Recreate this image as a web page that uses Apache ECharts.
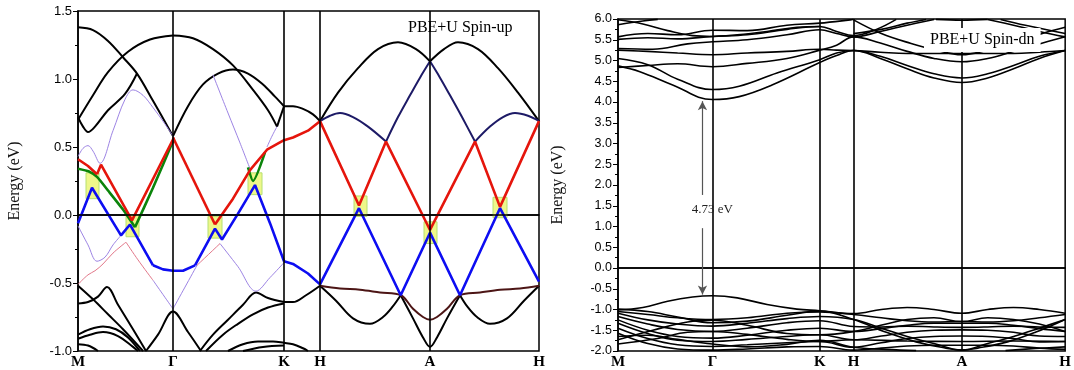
<!DOCTYPE html>
<html>
<head>
<meta charset="utf-8">
<script src="https://cdn.jsdelivr.net/npm/echarts/dist/echarts.min.js"></script>
<style>
  html, body { margin: 0; padding: 0; background: #fff; }
  #chart { width: 1074px; height: 370px; }
</style>
</head>
<body>
<div id="chart"></div>
<script>
// high-symmetry points (k-path distance) and labels
const kLabels = ['M', 'Γ', 'K', 'H', 'A', 'H'];
const kUp = [0, 95, 206, 242, 352, 461];
const kDn = [0, 95, 203, 237, 346, 450];

// ---- spin-up panel, black bands
const upBlack = [
  [[0,1.38],[15,1.36],[30,1.28],[45,1.16],[59,1.04],[75,0.84],[95,0.58]],
  [[0,0.70],[15,0.88],[30,1.05],[50,1.20],[72,1.29],[95,1.32]],
  [[0,0.72],[5,0.65],[10,0.61],[17,0.65],[30,0.77],[47,0.89],[59,1.04]],
  [[95,1.32],[115,1.30],[135,1.22],[155,1.10],[175,0.92],[190,0.77],[199,0.65]],
  [[199,0.65],[206,0.80]],
  [[95,0.58],[110,0.80],[125,0.96],[140,1.04],[155,1.07],[170,1.04],[185,0.96],[197,0.87],[206,0.80]],
  [[206,0.80],[215,0.80],[225,0.78],[235,0.74],[242,0.69]],
  [[242,0.69],[260,0.90],[280,1.08],[300,1.22],[320,1.27],[338,1.22],[352,1.13]],
  [[352,1.13],[366,1.22],[380,1.27],[400,1.22],[420,1.08],[440,0.90],[461,0.69]],
  [[0,-0.52],[15,-0.62],[30,-0.73],[45,-0.84],[65,-1.0]],
  [[0,-0.65],[10,-0.64],[20,-0.60],[29,-0.53],[40,-0.66],[55,-0.84],[68,-1.0]],
  [[68,-1.0],[80,-0.88],[95,-0.71],[110,-0.86],[123,-1.0]],
  [[0,-0.88],[12,-0.84],[25,-0.82],[38,-0.84],[50,-0.90],[62,-1.0]],
  [[0,-0.91],[12,-0.88],[25,-0.86],[40,-0.89],[55,-0.97],[60,-1.0]],
  [[0,-0.95],[10,-0.96],[20,-1.0]],
  [[122,-1.0],[135,-0.88],[150,-0.77],[165,-0.66],[178,-0.57],[190,-0.61],[206,-0.64]],
  [[128,-1.0],[145,-0.88],[160,-0.80],[175,-0.73],[190,-0.68],[206,-0.65]],
  [[150,-1.0],[165,-0.95],[180,-0.93],[195,-0.93],[206,-0.94],[215,-0.95],[225,-0.98],[230,-1.0]],
  [[165,-1.0],[185,-0.97],[206,-0.96]],
  [[206,-0.64],[215,-0.64],[228,-0.59],[242,-0.52]],
  [[242,-0.52],[258,-0.63],[275,-0.76],[292,-0.80],[305,-0.75],[315,-0.67],[322.7,-0.59]],
  [[322.7,-0.59],[335,-0.76],[345,-0.90],[352,-0.97],[359,-0.90],[369,-0.76],[382,-0.59]],
  [[382,-0.59],[389,-0.67],[399,-0.75],[412,-0.80],[429,-0.76],[446,-0.63],[461,-0.52]]
];
const upNavy = [
  [[242,0.69],[252,0.73],[262,0.75],[275,0.72],[290,0.65],[308,0.54]],
  [[308,0.54],[320,0.72],[332,0.88],[342,1.01],[352,1.13]],
  [[352,1.13],[362,1.01],[372,0.88],[384,0.72],[397,0.54]],
  [[397,0.54],[412,0.65],[425,0.72],[437,0.75],[450,0.73],[461,0.69]]
];
const upMaroon = [[242,-0.52],[262,-0.54],[282,-0.55],[302,-0.57],[322.7,-0.59],[335,-0.69],[345,-0.75],[352,-0.77],
  [359,-0.75],[369,-0.69],[382,-0.59],[402,-0.57],[422,-0.55],[442,-0.54],[461,-0.52]];
const upPurple = [
  [[0,0.43],[5,0.49],[10,0.51],[15,0.47],[22,0.38],[35,0.62],[47,0.85],[55,0.92],[65,0.88],[75,0.79],[85,0.69],[95,0.58]],
  [[0,-0.08],[10,-0.22],[19,-0.34],[27,-0.31],[35,-0.22],[43,-0.15]],
  [[135,1.03],[150,0.75],[162,0.53],[172,0.34]],
  [[189,0.50],[194,0.58],[199,0.65]],
  [[95,-0.69],[107,-0.53],[119,-0.37]],
  [[142,-0.21],[160,-0.38],[178,-0.56],[192,-0.46],[206,-0.35]],
  [[75,-0.48],[95,-0.69]]
];
const upPink = [
  [[0,-0.51],[10,-0.44],[17,-0.41],[25,-0.36],[35,-0.28],[48,-0.20]],
  [[48,-0.20],[60,-0.33],[75,-0.48]],
  [[119,-0.37],[142,-0.21]]
];
const upGreen = [
  [[0,0.34],[11,0.32],[19,0.28],[30,0.18],[45,0.04],[57,-0.09]],
  [[57,-0.09],[75,0.20],[96,0.56]],
  [[170,0.35],[175,0.25],[187,0.46]]
];
const upRed = [
  [[0,0.41],[10,0.36],[19,0.30]],
  [[19,0.30],[23,0.37],[54,-0.04],[96,0.57]],
  [[95,0.57],[137,-0.07]],
  [[137,-0.07],[155,0.12],[172,0.33],[189,0.48],[206,0.55],[215,0.57],[230,0.62],[242,0.69]],
  [[242,0.69],[281,0.07],[308,0.54],[352,-0.11],[397,0.54],[422,0.06],[461,0.69]]
];
const upBlue = [
  [[0,-0.06],[14,0.20],[43,-0.15],[52,-0.07],[75,-0.37]],
  [[75,-0.37],[85,-0.40],[95,-0.41],[105,-0.41],[117,-0.37]],
  [[117,-0.37],[137,-0.10],[144,-0.18],[160,0.01],[177,0.22],[192,-0.06],[206,-0.34]],
  [[206,-0.34],[215,-0.36],[230,-0.43],[242,-0.51]],
  [[242,-0.51],[281,0.05],[322.7,-0.59],[352,-0.13],[382,-0.59],[422,0.05],[461,-0.49]]
];
// highlighted crossings: [x1, E1, x2, E2]
const upBoxes = [
  [8,0.12,21,0.31], [48,-0.16,61,0.0], [130,-0.17,144,-0.01], [170,0.15,184,0.31],
  [276,-0.01,289,0.14], [346,-0.21,359,-0.05], [415,-0.02,429,0.13]
];

// ---- spin-down panel
const dnCond = [
  [[0,4.87],[22,4.73],[55,4.41],[95,4.06],[122,4.13],[155,4.41],[203,4.95],[220,5.12],[237,5.24],[264,5.05],[291,4.80],[318,4.58],[346,4.47],[372,4.58],[398,4.80],[424,5.05],[450,5.24]],
  [[0,5.05],[30,4.90],[60,4.55],[95,4.30],[122,4.38],[160,4.70],[203,5.02],[220,5.18],[237,5.24],[264,5.10],[291,4.88],[318,4.68],[346,4.58],[372,4.68],[398,4.88],[424,5.10],[450,5.24]],
  [[0,4.83],[30,4.88],[60,4.92],[95,4.85],[130,4.93],[170,5.05],[203,5.25],[220,5.37],[237,5.57],[264,5.42],[291,5.22],[318,5.05],[346,4.97],[372,5.05],[398,5.22],[424,5.40],[450,5.57]],
  [[0,5.25],[30,5.22],[60,5.18],[95,5.14],[130,5.18],[170,5.22],[203,5.27],[220,5.25],[237,5.24],[264,5.20],[291,5.17],[346,5.17],[398,5.17],[424,5.20],[450,5.24]],
  [[0,5.29],[35,5.27],[70,5.40],[95,5.45],[130,5.50],[170,5.62],[203,5.74],[220,5.65],[237,5.57],[264,5.70],[291,5.85],[318,5.99]],
  [[372,5.99],[398,5.85],[424,5.70],[450,5.57]],
  [[0,5.51],[30,5.55],[60,5.52],[95,5.58],[130,5.62],[170,5.75],[203,5.82],[220,5.70],[237,5.60],[260,5.75],[280,5.99]],
  [[0,5.57],[30,5.65],[60,5.62],[95,5.73],[130,5.72],[170,5.85],[203,5.90],[237,5.99]],
  [[0,5.98],[25,5.88],[50,5.72],[75,5.60],[95,5.58],[120,5.62],[150,5.70],[180,5.80],[203,5.82]],
  [[0,5.86],[25,5.95],[40,5.99]],
  [[237,5.98],[265,5.65],[295,5.41],[320,5.25],[346,5.14],[372,5.25],[397,5.41],[427,5.65],[450,5.80]],
  [[237,5.65],[265,5.75],[291,5.90],[310,5.99]],
  [[385,5.99],[410,5.85],[450,5.65]],
  [[320,5.99],[346,5.97],[372,5.99]]
];
const dnVal = [
  [[0,-1.01],[25,-0.95],[50,-0.80],[75,-0.70],[95,-0.67],[120,-0.72],[150,-0.88],[180,-0.99],[203,-1.03],[237,-1.10],[265,-1.00],[291,-0.95],[318,-1.00],[346,-1.09],[372,-1.00],[398,-0.95],[424,-1.00],[450,-1.09]],
  [[0,-1.05],[30,-1.12],[60,-1.20],[95,-1.24],[130,-1.20],[170,-1.09],[203,-1.06],[237,-1.12],[265,-1.20],[291,-1.27],[318,-1.30],[346,-1.29],[372,-1.30],[398,-1.27],[424,-1.20],[450,-1.12]],
  [[0,-1.09],[30,-1.25],[60,-1.35],[95,-1.40],[130,-1.33],[170,-1.22],[203,-1.17],[237,-1.24],[265,-1.45],[291,-1.65],[318,-1.82],[346,-1.98],[372,-1.82],[398,-1.65],[424,-1.45],[450,-1.24]],
  [[0,-1.17],[30,-1.35],[60,-1.48],[95,-1.53],[130,-1.45],[170,-1.32],[203,-1.27],[237,-1.41],[265,-1.42],[291,-1.40],[318,-1.42],[346,-1.43],[372,-1.42],[398,-1.40],[424,-1.42],[450,-1.43]],
  [[0,-1.25],[30,-1.50],[60,-1.65],[95,-1.69],[130,-1.62],[170,-1.50],[203,-1.45],[237,-1.53],[265,-1.46],[291,-1.38],[318,-1.33],[346,-1.33],[372,-1.33],[398,-1.38],[424,-1.46],[450,-1.53]],
  [[0,-1.33],[30,-1.58],[60,-1.74],[95,-1.77],[130,-1.72],[170,-1.65],[203,-1.61],[237,-1.73],[265,-1.64],[291,-1.55],[318,-1.50],[346,-1.49],[372,-1.50],[398,-1.55],[424,-1.64],[450,-1.65]],
  [[0,-1.45],[30,-1.70],[60,-1.85],[95,-1.89],[130,-1.85],[170,-1.80],[203,-1.77],[237,-1.91],[265,-1.80],[291,-1.70],[318,-1.65],[346,-1.64],[372,-1.65],[398,-1.70],[424,-1.78],[450,-1.77]],
  [[0,-1.57],[30,-1.82],[60,-1.95],[95,-1.98],[130,-1.95],[170,-1.90],[203,-1.89],[237,-1.98],[265,-1.93],[291,-1.88],[318,-1.86],[346,-1.86],[372,-1.86],[398,-1.88],[424,-1.93],[450,-1.96]],
  [[0,-1.73],[35,-1.50],[70,-1.30],[95,-1.26],[130,-1.38],[170,-1.58],[203,-1.61],[237,-1.53],[270,-1.35],[291,-1.24],[318,-1.20],[346,-1.29],[372,-1.20],[398,-1.24],[424,-1.35],[450,-1.53]],
  [[0,-1.83],[40,-1.70],[70,-1.55],[95,-1.53],[130,-1.60],[170,-1.72],[203,-1.77],[237,-1.73],[291,-1.76],[346,-1.77],[398,-1.76],[450,-1.77]],
  [[0,-0.99],[30,-1.05],[60,-1.18],[95,-1.32],[130,-1.28],[170,-1.14],[203,-1.04],[237,-1.24],[270,-1.55],[300,-1.78],[330,-1.93],[346,-1.98],[362,-1.93],[392,-1.78],[420,-1.55],[450,-1.24]],
  [[0,-1.65],[30,-1.62],[60,-1.72],[95,-1.83],[130,-1.90],[170,-1.84],[203,-1.74],[237,-1.91],[270,-1.96],[300,-1.99]],
  [[390,-1.99],[420,-1.94],[450,-1.90]]
];
// band gap arrows and label
const gapX = 85;
const gapUp = [1.76, 4.02];
const gapDown = [0.96, -0.64];
const gapText = '4.73 eV';
const gapTextPos = [95, 1.4];

function band(data, gi, color, width, smooth) {
  return {
    type: 'line', xAxisIndex: gi, yAxisIndex: gi, data: data,
    symbol: 'none', smooth: smooth, silent: true, z: 3,
    lineStyle: { color: color, width: width }
  };
}

const series = [];
// guide lines + highlight boxes
[[kUp, 0], [kDn, 1]].forEach(function (p) {
  series.push({
    type: 'line', xAxisIndex: p[1], yAxisIndex: p[1], data: [], z: 2, silent: true,
    markLine: {
      symbol: 'none', silent: true, animation: false,
      label: { show: false },
      lineStyle: { color: '#000', width: 1.6, type: 'solid' },
      data: p[0].slice(1, 5).map(function (v) { return { xAxis: v }; }).concat([{ yAxis: 0 }])
    }
  });
});
series.push({
  type: 'line', xAxisIndex: 0, yAxisIndex: 0, data: [], z: 1, silent: true,
  markArea: {
    silent: true,
    itemStyle: { color: '#eef78a', borderColor: '#b6e070', borderWidth: 1 },
    data: upBoxes.map(function (b) { return [{ coord: [b[0], b[1]] }, { coord: [b[2], b[3]] }]; })
  }
});

upBlack.forEach(function (d) { series.push(band(d, 0, '#000', 2, 0.35)); });
upPurple.forEach(function (d) { series.push(band(d, 0, '#9d84e4', 1, 0.35)); });
upPink.forEach(function (d) { series.push(band(d, 0, '#e2788a', 1, 0.35)); });
upNavy.forEach(function (d) { series.push(band(d, 0, '#1d1a66', 2, 0.35)); });
series.push(band(upMaroon, 0, '#4c1515', 2, 0.35));
upGreen.forEach(function (d) { series.push(band(d, 0, '#0b840b', 2.6, 0.2)); });
upRed.forEach(function (d) { series.push(band(d, 0, '#e5150c', 2.6, false)); });
upBlue.forEach(function (d) { series.push(band(d, 0, '#0d0df2', 2.6, false)); });

dnCond.forEach(function (d) { series.push(band(d, 1, '#000', 1.6, 0.4)); });
dnVal.forEach(function (d) { series.push(band(d, 1, '#000', 1.6, 0.4)); });

series.push({
  type: 'line', xAxisIndex: 1, yAxisIndex: 1, data: [], z: 4, silent: true,
  markLine: {
    silent: true, animation: false,
    symbol: ['none', 'arrow'], symbolSize: [7, 9],
    label: { show: false },
    lineStyle: { color: '#555', width: 1.2, type: 'solid' },
    data: [
      [{ coord: [gapX, gapUp[0]] }, { coord: [gapX, gapUp[1]] }],
      [{ coord: [gapX, gapDown[0]] }, { coord: [gapX, gapDown[1]] }]
    ]
  },
  markPoint: {
    silent: true, symbol: 'rect', symbolSize: 1,
    itemStyle: { color: 'rgba(0,0,0,0)' },
    label: { show: true, position: 'inside', color: '#222', fontFamily: 'Liberation Serif', fontSize: 13,
      formatter: gapText },
    data: [{ coord: gapTextPos }]
  }
});

function xAxis(gi, pos) {
  return {
    gridIndex: gi, type: 'value', min: 0, max: pos[pos.length - 1],
    axisLine: { show: true, lineStyle: { color: '#000', width: 1.5 } },
    axisTick: { show: false },
    splitLine: { show: false },
    axisLabel: {
      customValues: pos,
      formatter: function (v) { return kLabels[pos.indexOf(v)]; },
      fontFamily: 'Liberation Serif', fontWeight: 'bold', fontSize: 15, color: '#000', margin: 4
    }
  };
}
function yAxis(gi, min, max) {
  return {
    gridIndex: gi, type: 'value', min: min, max: max, interval: 0.5,
    name: 'Energy (eV)', nameLocation: 'middle', nameGap: gi === 0 ? 55 : 52,
    nameTextStyle: { fontFamily: 'Liberation Serif', fontSize: 16, color: '#111' },
    axisLine: { show: true, lineStyle: { color: '#000', width: 1.5 } },
    axisTick: { show: true, length: 5, lineStyle: { color: '#000' } },
    minorTick: { show: true, splitNumber: 2, length: 3, lineStyle: { color: '#000' } },
    splitLine: { show: false },
    axisLabel: {
      formatter: function (v) { return v.toFixed(1); },
      fontFamily: 'Liberation Sans', fontSize: gi === 0 ? 13 : 12.5, color: '#000', margin: 6
    }
  };
}

const chart = echarts.init(document.getElementById('chart'));
chart.setOption({
  animation: false,
  backgroundColor: '#fff',
  grid: [
    { left: 78, top: 11, width: 461, height: 340, show: true, borderColor: '#000', borderWidth: 1.5 },
    { left: 618, top: 19, width: 450, height: 332, show: true, borderColor: '#000', borderWidth: 1.5 }
  ],
  xAxis: [xAxis(0, kUp), xAxis(1, kDn)],
  yAxis: [yAxis(0, -1, 1.5), yAxis(1, -2, 6)],
  graphic: [
    { type: 'text', left: 408, top: 20, z: 10,
      style: { text: 'PBE+U Spin-up', font: '16px "Liberation Serif"', fill: '#000' } },
    { type: 'text', left: 924, top: 28, z: 10,
      style: { text: 'PBE+U Spin-dn', font: '16px "Liberation Serif"', fill: '#000',
        backgroundColor: '#fff', padding: [4, 6, 4, 6] } }
  ],
  series: series
});
</script>
</body>
</html>
